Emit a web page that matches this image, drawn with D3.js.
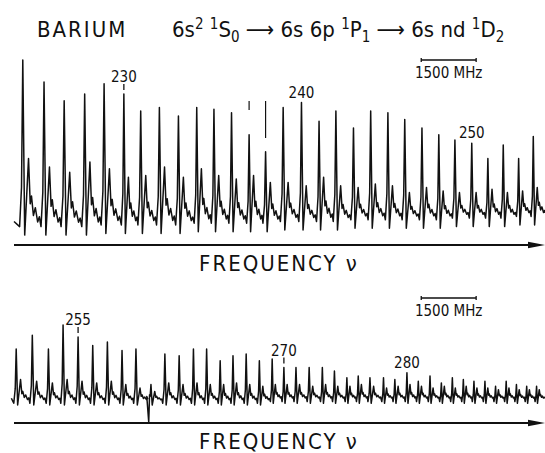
<!DOCTYPE html>
<html>
<head>
<meta charset="utf-8">
<script src="https://cdn.jsdelivr.net/npm/d3@7"></script>
<style>
  body { margin: 0; background: #fff; }
  svg text { font-family: "DejaVu Sans Condensed", "DejaVu Sans", sans-serif; fill: #111; }
</style>
</head>
<body>
<div id="chart"></div>
<script>
// --- data ---
// peak positions in GHz (from the left end of each scan), signal in arb. units

// upper scan, n = 225 ... 254
const topN0 = 225
const topPeaks = [0.24, 0.82, 1.37, 1.93, 2.46, 3.00, 3.46, 3.97, 4.49, 4.99,
  5.46, 5.94, 6.42, 6.87, 7.35, 7.85, 8.33, 8.79, 9.27, 9.74,
  10.21, 10.67, 11.14, 11.60, 12.04, 12.50, 12.94, 13.36, 13.78, 14.18]
const topMain = [100, 87, 76, 80, 86, 80, 70, 72, 67, 72,
  71, 69, 56, 46, 72, 75, 64, 70, 60, 70,
  69, 65, 60, 56, 53, 51, 42, 50, 42, 55]
const topSat = [42, 37, 34, 40, 36, 31, 32, 37, 31, 36,
  32, 30, 32, 28, 28, 26, 31, 26, 25, 27,
  26, 22, 25, 23, 22, 22, 24, 22, 23, 25]
const topBase = [4, 4, 4, 4, 5, 5, 5, 5, 5, 6,
  6, 6, 6, 6, 7, 7, 7, 7, 8, 8,
  8, 8, 8, 8, 9, 9, 9, 9, 10, 10]
const topLabels = [230, 240, 250]
const topMarks = [237, 238]

// lower scan, n = 251 ... 292
const botN0 = 251
const botPeaks = [0.06, 0.50, 0.94, 1.34, 1.75, 2.15, 2.55, 2.95, 3.33, 3.74,
  4.12, 4.51, 4.90, 5.26, 5.63, 5.98, 6.34, 6.70, 7.05, 7.37,
  7.70, 8.06, 8.42, 8.75, 9.09, 9.40, 9.72, 10.09, 10.40, 10.73,
  11.04, 11.36, 11.67, 11.97, 12.27, 12.56, 12.86, 13.15, 13.44, 13.72,
  14.00, 14.27]
const botMain = [33, 41, 33, 47, 40, 35, 37, 32, 33, 12,
  30, 29, 33, 33, 26, 29, 30, 26, 27, 22,
  22, 22, 22, 20, 16, 17, 16, 16, 15, 19,
  14, 17, 13, 16, 15, 14, 14, 11, 14, 12,
  11, 11]
const botSat = [15, 14, 13, 15, 14, 13, 14, 12, 10, 8,
  13, 12, 13, 12, 12, 13, 12, 11, 12, 12,
  12, 11, 12, 11, 11, 12, 11, 10, 11, 12,
  11, 10, 11, 10, 11, 10, 10, 9, 10, 9,
  9, 9]
const botBase = [3, 3, 3, 3, 3, 3, 3, 3, 3, 3,
  3, 3, 3, 3, 3, 3, 3, 3, 4, 4,
  4, 4, 4, 4, 4, 4, 4, 4, 4, 4,
  4, 4, 4, 4, 4, 4, 4, 4, 4, 4,
  4, 4]
const botLabels = [255, 270, 280]
const botGlitch = { n: 260, depth: -10 }

const tickedLabels = [230, 255, 270]
const scaleBarGHz = [11.12, 12.62]   // 1500 MHz

// --- layout ---
const W = 545, H = 453
const svg = d3.select('#chart').append('svg')
  .attr('width', W).attr('height', H)

const x = d3.scaleLinear().domain([0, 14.5]).range([14, 545])
const yTop = d3.scaleLinear().domain([0, 100]).range([230, 60])
const yBot = d3.scaleLinear().domain([0, 100]).range([405, 235])

// build the trace vertices for one scan from its peak table
const tracePoints = (peaks, main, sat, base, dip, n0, glitch) => {
  const pts = []
  peaks.forEach((p, i) => {
    const P = i < peaks.length - 1 ? peaks[i + 1] - p : p - peaks[i - 1]
    const b = base[i], s = sat[i], m = main[i], ds = s - b
    if (i === 0) pts.push([Math.min(0, p - 0.3 * P), b + 1])
    if (glitch && n0 + i === glitch.n) {
      pts.push([p - 0.3 * P, b + 2], [p - 0.16 * P, glitch.depth], [p - 0.1 * P, b + 3])
    } else {
      pts.push([p - 0.15 * P, b - 2])
    }
    pts.push(
      [p - 0.06 * P, b + 0.22 * (m - b)],
      [p, m],
      [p + 0.09 * P, b - dip],
      [p + 0.27 * P, s],
      [p + 0.35 * P, b + 0.3 * ds],
      [p + 0.41 * P, b + 0.42 * ds],
      [p + 0.5 * P, b + 0.12 * ds],
      [p + 0.59 * P, b + 0.24 * ds],
      [p + 0.7 * P, b + 0.02 * ds],
      [p + 0.78 * P, b + 0.1 * ds]
    )
  })
  pts.push([14.5, base[base.length - 1]])
  return pts.filter(d => d[0] <= 14.5)
}

const drawPanel = (g, y, peaks, main, sat, base, dip, n0, labels, axisY, glitch) => {
  const line = d3.line().x(d => x(d[0])).y(d => y(d[1]))
  g.append('path')
    .datum(tracePoints(peaks, main, sat, base, dip, n0, glitch))
    .attr('d', line)
    .attr('fill', 'none')
    .attr('stroke', '#111')
    .attr('stroke-width', 1.5)
    .attr('stroke-linejoin', 'round')

  // n labels
  labels.forEach(n => {
    const i = n - n0
    const top = y(main[i])
    const ticked = tickedLabels.includes(n)
    if (ticked) {
      g.append('line')
        .attr('x1', x(peaks[i])).attr('x2', x(peaks[i]))
        .attr('y1', top - 10).attr('y2', top - 4)
        .attr('stroke', '#111').attr('stroke-width', 1.3)
    }
    g.append('text')
      .attr('x', x(peaks[i]))
      .attr('y', ticked ? top - 12 : top - 5)
      .attr('text-anchor', 'middle')
      .attr('font-size', '15px')
      .text(n)
  })

  // frequency axis with arrow
  g.append('line')
    .attr('x1', 14).attr('x2', 536)
    .attr('y1', axisY).attr('y2', axisY)
    .attr('stroke', '#111').attr('stroke-width', 1.8)
  g.append('path')
    .attr('d', `M545,${axisY} L528,${axisY - 3.2} L528,${axisY + 3.2} Z`)
    .attr('fill', '#111')
  g.append('text')
    .attr('x', 279).attr('y', axisY + 26)
    .attr('text-anchor', 'middle')
    .attr('font-size', '22px')
    .attr('letter-spacing', '2px')
    .text('FREQUENCY ν')
}

const drawScaleBar = (g, barY) => {
  const [a, b] = scaleBarGHz.map(x)
  g.append('path')
    .attr('d', `M${a},${barY - 2}V${barY + 2}M${a},${barY}H${b}M${b},${barY - 2}V${barY + 2}`)
    .attr('stroke', '#111').attr('stroke-width', 1.3).attr('fill', 'none')
  g.append('text')
    .attr('x', (a + b) / 2).attr('y', barY + 18)
    .attr('text-anchor', 'middle')
    .attr('font-size', '15px')
    .text('1500 MHz')
}

const gTop = svg.append('g')
drawPanel(gTop, yTop, topPeaks, topMain, topSat, topBase, 7, topN0, topLabels, 245)
drawScaleBar(gTop, 60)
// marker strokes above two of the upper peaks
topMarks.forEach(n => {
  const i = n - topN0
  gTop.append('line')
    .attr('x1', x(topPeaks[i])).attr('x2', x(topPeaks[i]))
    .attr('y1', 101).attr('y2', n === 237 ? 110 : 138)
    .attr('stroke', '#111').attr('stroke-width', 1.2)
})

const gBot = svg.append('g')
drawPanel(gBot, yBot, botPeaks, botMain, botSat, botBase, 3, botN0, botLabels, 423, botGlitch)
drawScaleBar(gBot, 298)

// title
svg.append('text')
  .attr('x', 37).attr('y', 37)
  .attr('font-size', '22px')
  .attr('letter-spacing', '2px')
  .text('BARIUM')

const formula = svg.append('text')
  .attr('x', 172).attr('y', 37)
  .attr('font-size', '22px')
const parts = [
  ['6s', 0], ['2', -8], [' ', 8], ['1', -8], ['S', 8], ['0', 5], [' ⟶', -5],
  [' 6s 6p ', 0], ['1', -8], ['P', 8], ['1', 5], [' ⟶', -5],
  [' 6s nd ', 0], ['1', -8], ['D', 8], ['2', 5]
]
parts.forEach(([t, dy]) => {
  const small = dy === -8 || dy === 5
  formula.append('tspan')
    .attr('dy', dy)
    .attr('font-size', small ? '15px' : '22px')
    .text(t)
})
</script>
</body>
</html>
